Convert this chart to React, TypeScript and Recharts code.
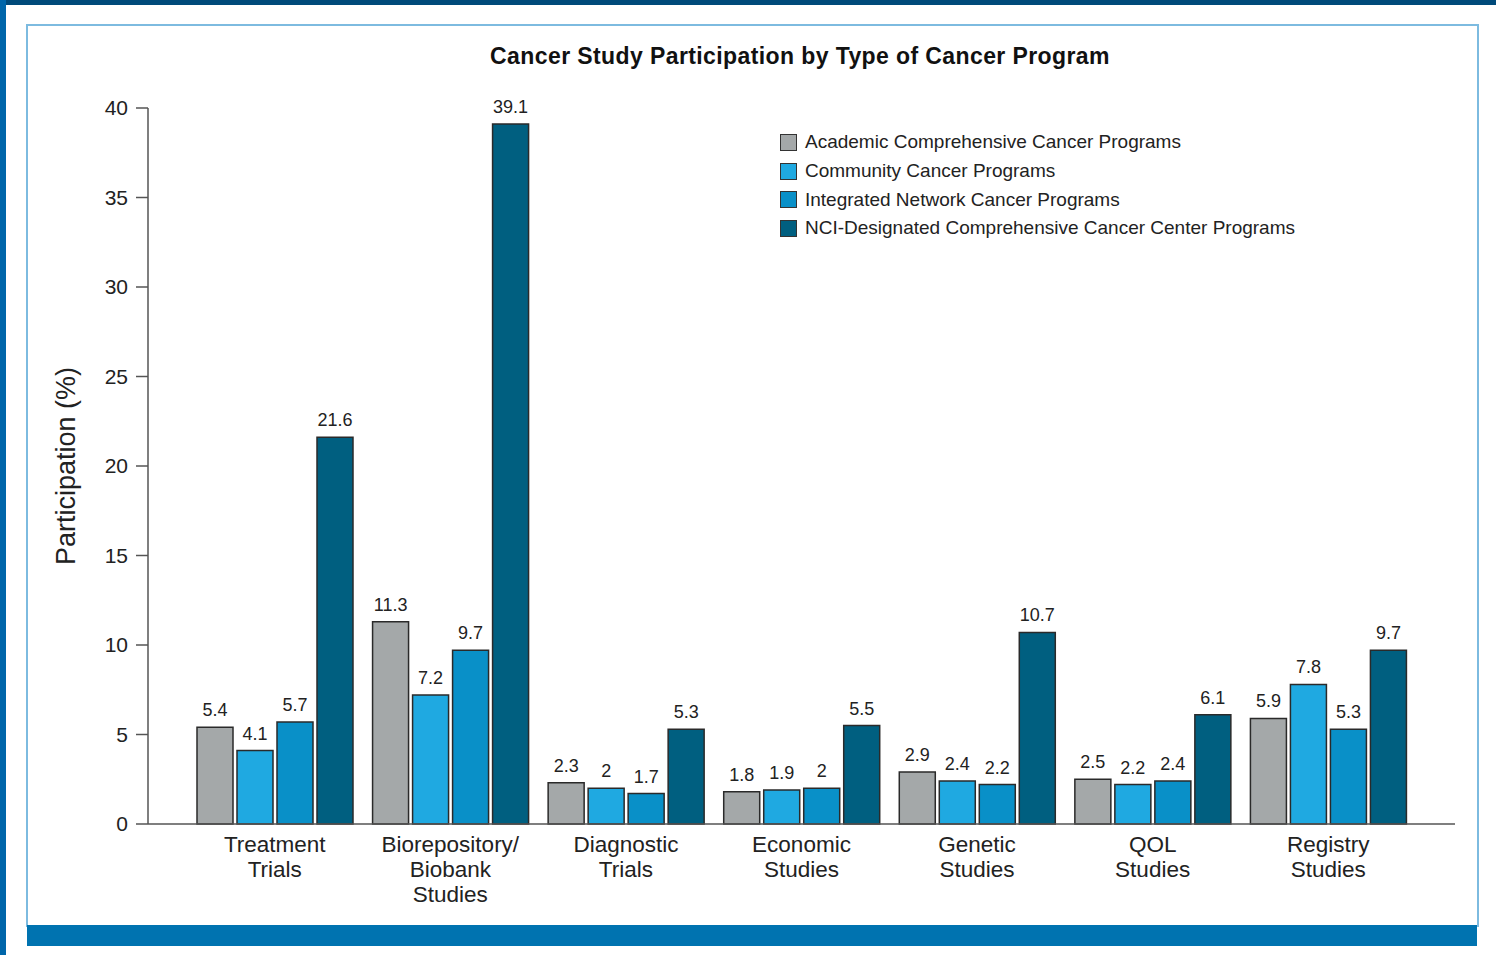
import { BarChart, Bar, XAxis, YAxis, LabelList } from 'recharts'

const categories = [
  'Treatment\nTrials',
  'Biorepository/\nBiobank\nStudies',
  'Diagnostic\nTrials',
  'Economic\nStudies',
  'Genetic\nStudies',
  'QOL\nStudies',
  'Registry\nStudies',
]

const academic = [5.4, 11.3, 2.3, 1.8, 2.9, 2.5, 5.9]
const community = [4.1, 7.2, 2, 1.9, 2.4, 2.2, 7.8]
const integrated = [5.7, 9.7, 1.7, 2, 2.2, 2.4, 5.3]
const nci = [21.6, 39.1, 5.3, 5.5, 10.7, 6.1, 9.7]

const yTicks = [0, 5, 10, 15, 20, 25, 30, 35, 40]

const series = [
  { key: 'academic', name: 'Academic Comprehensive Cancer Programs', color: '#a4a8a9' },
  { key: 'community', name: 'Community Cancer Programs', color: '#1fa9e1' },
  { key: 'integrated', name: 'Integrated Network Cancer Programs', color: '#0990c8' },
  { key: 'nci', name: 'NCI-Designated Comprehensive Cancer Center Programs', color: '#005f80' },
]

const data = categories.map((c, i) => ({
  category: c,
  academic: academic[i],
  community: community[i],
  integrated: integrated[i],
  nci: nci[i],
}))

const FONT = '"Liberation Sans", Arial, sans-serif'

function CategoryTick(props: any) {
  const { x, y, payload } = props
  const lines = String(payload.value).split('\n')
  return (
    <text x={x} y={y + 20} textAnchor="middle" fontSize={22.5} fill="#222" fontFamily={FONT}>
      {lines.map((l: string, i: number) => (
        <tspan key={i} x={x} dy={i === 0 ? 0 : 25}>{l}</tspan>
      ))}
    </text>
  )
}

function YLabel(props: any) {
  const { viewBox } = props
  const cy = viewBox.y + viewBox.height / 2
  return (
    <text x={48} y={cy} transform={`rotate(-90, 48, ${cy})`} textAnchor="middle" fontSize={27} fill="#222" fontFamily={FONT}>
      Participation (%)
    </text>
  )
}

export default function App() {
  return (
    <div style={{ position: 'fixed', top: 0, left: 0, width: 1496, height: 955, background: '#fff', overflow: 'hidden', fontFamily: FONT }}>
      <div style={{ position: 'absolute', left: 0, top: 0, width: 1496, height: 5, background: '#004a7a' }} />
      <div style={{ position: 'absolute', left: 0, top: 0, width: 6, height: 955, background: '#0066aa' }} />
      <div style={{ position: 'absolute', left: 26, top: 24, width: 1449, height: 901, border: '2px solid #7dbbe0', borderBottom: 'none' }} />
      <div style={{ position: 'absolute', left: 27, top: 925, width: 1450, height: 21, background: '#0073b0' }} />

      <div style={{ position: 'absolute', left: 27, top: 42, width: 1546, textAlign: 'center', fontSize: 23, letterSpacing: 0.4, fontWeight: 'bold', color: '#111', lineHeight: '28px' }}>
        Cancer Study Participation by Type of Cancer Program
      </div>

      <div style={{ position: 'absolute', left: 780, top: 128 }}>
        {series.map(s => (
          <div key={s.key} style={{ display: 'flex', alignItems: 'center', height: 28.7 }}>
            <div style={{ width: 15, height: 15, background: s.color, border: '1.5px solid #333', marginRight: 8 }} />
            <span style={{ fontSize: 19, color: '#222' }}>{s.name}</span>
          </div>
        ))}
      </div>

      <div style={{ position: 'absolute', left: 27, top: 25 }}>
        <BarChart
          width={1450}
          height={900}
          data={data}
          margin={{ top: 83, right: 22, left: 0, bottom: 0 }}
          barCategoryGap={10}
          barGap={4}
        >
          <XAxis
            dataKey="category"
            height={101}
            interval={0}
            tickLine={false}
            axisLine={{ stroke: '#555', strokeWidth: 1.5 }}
            padding={{ left: 39, right: 39 }}
            tick={<CategoryTick />}
          />
          <YAxis
            width={121}
            domain={[0, 40]}
            ticks={yTicks}
            interval={0}
            tickSize={12}
            tickMargin={8}
            axisLine={{ stroke: '#555', strokeWidth: 1.5 }}
            tickLine={{ stroke: '#555', strokeWidth: 1.5 }}
            tick={{ fontSize: 21, fill: '#222', fontFamily: FONT }}
            label={<YLabel />}
          />
          {series.map(s => (
            <Bar key={s.key} dataKey={s.key} name={s.name} fill={s.color} stroke="#2a2a2a" strokeWidth={1.5} isAnimationActive={false}>
              <LabelList dataKey={s.key} position="top" offset={11} fontSize={18} fill="#222" fontFamily={FONT} />
            </Bar>
          ))}
        </BarChart>
      </div>
    </div>
  )
}
